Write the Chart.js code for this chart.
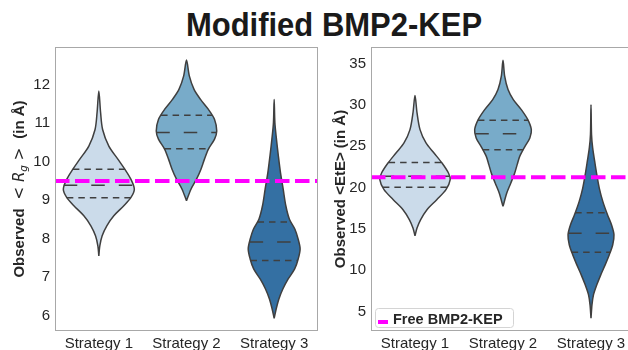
<!DOCTYPE html>
<html>
<head>
<meta charset="utf-8">
<script src="https://cdn.jsdelivr.net/npm/chart.js@4.4.1/dist/chart.umd.min.js"></script>
<style>
    html, body { margin: 0; padding: 0; background: #fff; }
    body { width: 628px; height: 350px; overflow: hidden; position: relative;
           font-family: "Liberation Sans", Arial, sans-serif; }
    #titulo { position: absolute; left: 0; top: 4px; width: 668px; text-align: center;
              font-weight: bold; font-size: 31px; line-height: 40px; color: #1a1a1a;
              transform: scaleY(1.08); transform-origin: center top; }
    .painel { position: absolute; top: 0; width: 330px; height: 350px; }
    #painelRg  { left: 0; }
    #painelEtE { left: 318px; }
</style>
</head>
<body>
<div id="titulo">Modified BMP2-KEP</div>
<div class="painel" id="painelRg"><canvas id="chartRg" width="330" height="350"></canvas></div>
<div class="painel" id="painelEtE"><canvas id="chartEtE" width="330" height="350"></canvas></div>

<script>
// violinos de Rg e EtE por estratégia, com a referência da proteína livre

// ===================== DADOS =====================
const estrategias = ["Strategy 1", "Strategy 2", "Strategy 3"];

// Rg: contorno de cada violino (nível em Å -> meia largura em unidades de categoria)
const rgNiveis1  = [7.55, 7.81, 8.07, 8.33, 8.59, 8.85, 9.06, 9.28, 9.54, 9.80, 10.06, 10.40, 10.83, 11.27, 11.83];
const rgLargura1 = [0, 0.011, 0.038, 0.091, 0.171, 0.285, 0.365, 0.405, 0.365, 0.296, 0.217, 0.114, 0.043, 0.02, 0];
const rgNiveis2  = [8.98, 9.28, 9.54, 9.80, 10.06, 10.32, 10.58, 10.79, 11.09, 11.35, 11.61, 11.87, 12.22, 12.63];
const rgLargura2 = [0, 0.051, 0.114, 0.165, 0.205, 0.25, 0.32, 0.345, 0.32, 0.25, 0.16, 0.086, 0.032, 0];
const rgNiveis3  = [5.93, 6.17, 6.43, 6.69, 6.95, 7.21, 7.47, 7.73, 7.98, 8.24, 8.50, 8.85, 9.28, 9.71, 10.14, 10.58, 11.01, 11.61];
const rgLargura3 = [0, 0.023, 0.054, 0.099, 0.16, 0.234, 0.274, 0.296, 0.274, 0.237, 0.174, 0.133, 0.103, 0.072, 0.048, 0.026, 0.008, 0];

const rgQ1      = [9.06, 10.33, 7.43];
const rgMediana = [9.38, 10.75, 7.91];
const rgQ3      = [9.80, 11.20, 8.43];
const rgMeiaQ1  = [0.365, 0.25, 0.27];
const rgMeiaMed = [0.40, 0.345, 0.28];
const rgMeiaQ3  = [0.296, 0.29, 0.19];

const rgTicks = [6, 7, 8, 9, 10, 11, 12];
const rgReferencia = 9.49;

// EtE
const eteNiveis1  = [14.17, 15.10, 16.10, 17.32, 18.53, 19.74, 20.95, 21.76, 22.97, 24.18, 25.39, 27.01, 29.03, 31.12];
const eteLargura1 = [0, 0.023, 0.063, 0.136, 0.247, 0.352, 0.40, 0.38, 0.307, 0.216, 0.125, 0.057, 0.023, 0];
const eteNiveis2  = [17.72, 19.34, 20.55, 21.76, 22.77, 23.77, 24.99, 26.00, 27.01, 28.22, 29.43, 30.64, 31.85, 33.47, 35.40];
const eteLargura2 = [0, 0.043, 0.089, 0.133, 0.161, 0.19, 0.25, 0.305, 0.322, 0.282, 0.208, 0.117, 0.057, 0.019, 0];
const eteNiveis3  = [4.20, 5.81, 7.02, 8.23, 9.44, 10.65, 11.87, 13.08, 14.29, 15.50, 16.71, 18.33, 19.94, 21.56, 23.17, 24.79, 26.40, 30.03];
const eteLargura3 = [0, 0.011, 0.028, 0.066, 0.111, 0.161, 0.208, 0.247, 0.261, 0.233, 0.1875, 0.134, 0.094, 0.066, 0.042, 0.019, 0.006, 0];

const eteQ1      = [20.05, 24.58, 12.17];
const eteMediana = [21.38, 26.50, 14.47];
const eteQ3      = [23.03, 28.14, 16.95];
const eteMeiaQ1  = [0.365, 0.23, 0.22];
const eteMeiaMed = [0.39, 0.315, 0.26];
const eteMeiaQ3  = [0.30, 0.285, 0.18];

const eteTicks = [5, 10, 15, 20, 25, 30, 35];
const eteReferencia = 21.25;

const legendaTexto = "Free BMP2-KEP";

// ===================== CORES =====================
const COR_TEXTO    = "#262626";
const COR_CONTORNO = "#3f3f3f";
const COR_MAGENTA  = "#ff00ff";
const COR_MOLDURA  = "#a8a8a8";
const CORES_VIOLINOS = ["#cbdbea", "#78abc9", "#3470a3"];

const FONTE = "'Liberation Sans', Arial, sans-serif";
Chart.defaults.font.family = FONTE;
Chart.defaults.color = COR_TEXTO;

// ===================== PLUGINS =====================
// moldura cinza em volta da área do gráfico
const moldura = {
    id: "moldura",
    afterDatasetsDraw(chart) {
        const { ctx, chartArea: a } = chart;
        ctx.save();
        ctx.strokeStyle = COR_MOLDURA;
        ctx.lineWidth = 1;
        ctx.strokeRect(a.left + 0.5, a.top + 0.5, a.right - a.left - 1, a.bottom - a.top - 1);
        ctx.restore();
    },
};

// título do eixo y em partes (permite itálico e subscrito)
const rotuloY = {
    id: "rotuloY",
    afterDraw(chart, args, opts) {
        const { ctx, chartArea: a } = chart;
        ctx.save();
        ctx.translate(opts.x, (a.top + a.bottom) / 2);
        ctx.rotate(-Math.PI / 2);
        let total = 0;
        opts.partes.forEach(p => { ctx.font = p.fonte; total += ctx.measureText(p.texto).width; });
        let x = -total / 2;
        ctx.fillStyle = COR_TEXTO;
        ctx.textBaseline = "alphabetic";
        opts.partes.forEach(p => {
            ctx.font = p.fonte;
            ctx.fillText(p.texto, x, p.dy || 0);
            x += ctx.measureText(p.texto).width;
        });
        ctx.restore();
    },
};

// legenda dentro da área, canto inferior esquerdo
const legendaCanto = {
    id: "legendaCanto",
    afterDraw(chart, args, opts) {
        if (!opts.texto) return;
        const { ctx, chartArea: a } = chart;
        const w = 138, h = 19;
        const x0 = a.left + 4, y0 = a.bottom - 4 - h;
        ctx.save();
        ctx.beginPath();
        ctx.roundRect(x0 + 0.5, y0 + 0.5, w, h, 3);
        ctx.fillStyle = "rgba(255,255,255,0.85)";
        ctx.fill();
        ctx.strokeStyle = "#d4d4d4";
        ctx.lineWidth = 1;
        ctx.stroke();

        ctx.beginPath();
        ctx.moveTo(x0 + 3, y0 + 14);
        ctx.lineTo(x0 + 13, y0 + 14);
        ctx.strokeStyle = COR_MAGENTA;
        ctx.lineWidth = 4;
        ctx.stroke();

        ctx.font = "bold 14.5px " + FONTE;
        ctx.fillStyle = COR_TEXTO;
        ctx.textBaseline = "alphabetic";
        ctx.fillText(opts.texto, x0 + 18, y0 + 15.5);
        ctx.restore();
    },
};

// ===================== MONTAGEM =====================
function contornoViolino(centro, niveis, larguras) {
    // sobe pelo lado direito e desce pelo esquerdo
    const pts = niveis.map((y, i) => ({ x: centro + larguras[i], y }));
    for (let i = niveis.length - 2; i >= 0; i--) {
        pts.push({ x: centro - larguras[i], y: niveis[i] });
    }
    return pts;
}

function linhaQuartil(i, valor, meia, tracejado) {
    return {
        data: [{ x: i - meia, y: valor }, { x: i + meia, y: valor }],
        borderColor: COR_CONTORNO,
        borderWidth: 1.5,
        borderDash: tracejado,
        pointRadius: 0,
        fill: false,
        order: 1,
    };
}

function datasetsPainel(niveis, larguras, q1, med, q3, meiaQ1, meiaMed, meiaQ3, referencia) {
    const ds = [{
        data: [{ x: -0.5, y: referencia }, { x: 2.5, y: referencia }],
        borderColor: COR_MAGENTA,
        borderWidth: 4,
        borderDash: [14.5, 5.5],
        pointRadius: 0,
        fill: false,
        clip: 0,
        order: 0,
    }];
    estrategias.forEach((_, i) => {
        ds.push(linhaQuartil(i, q1[i],  meiaQ1[i],  [6.5, 5]));
        ds.push(linhaQuartil(i, med[i], meiaMed[i], [13.5, 14]));
        ds.push(linhaQuartil(i, q3[i],  meiaQ3[i],  [6.5, 5]));
        ds.push({
            data: contornoViolino(i, niveis[i], larguras[i]),
            borderColor: COR_CONTORNO,
            borderWidth: 1.5,
            backgroundColor: CORES_VIOLINOS[i],
            fill: "shape",
            tension: 0.3,
            pointRadius: 0,
            order: 2,
        });
    });
    return ds;
}

function opcoesPainel(cfg) {
    return {
        responsive: false,
        animation: false,
        events: [],
        layout: { padding: { top: 47, right: cfg.direita, bottom: 0, left: 0 } },
        plugins: {
            legend: { display: false },
            tooltip: { enabled: false },
            rotuloY: { x: cfg.rotuloX, partes: cfg.partes },
            legendaCanto: { texto: cfg.legenda },
        },
        scales: {
            x: {
                type: "linear", min: -0.5, max: 2.5,
                afterBuildTicks: s => { s.ticks = estrategias.map((_, i) => ({ value: i })); },
                afterFit: s => { s.height = 19; },
                grid: { display: false, drawTicks: false },
                border: { display: false },
                ticks: {
                    font: { size: 15 }, color: COR_TEXTO, padding: 4,
                    autoSkip: false, maxRotation: 0,
                    callback: v => estrategias[v],
                },
            },
            y: {
                type: "linear", min: cfg.min, max: cfg.max,
                afterBuildTicks: s => { s.ticks = cfg.ticks.map(v => ({ value: v })); },
                afterFit: s => { s.width = cfg.larguraEixo; },
                grid: { display: false, drawTicks: false },
                border: { display: false },
                ticks: { font: { size: 15 }, color: COR_TEXTO, padding: 5 },
            },
        },
    };
}

// ===================== GRÁFICOS =====================
const negrito = "bold 15px " + FONTE;
const mat     = "15px 'DejaVu Sans', sans-serif";

new Chart(document.getElementById("chartRg"), {
    type: "line",
    data: {
        datasets: datasetsPainel(
            [rgNiveis1, rgNiveis2, rgNiveis3], [rgLargura1, rgLargura2, rgLargura3],
            rgQ1, rgMediana, rgQ3, rgMeiaQ1, rgMeiaMed, rgMeiaQ3, rgReferencia),
    },
    options: opcoesPainel({
        min: 5.6, max: 12.97, ticks: rgTicks, larguraEixo: 55, direita: 12, rotuloX: 24,
        partes: [
            { texto: "Observed ", fonte: negrito },
            { texto: " < ", fonte: mat },
            { texto: "R", fonte: "italic " + mat },
            { texto: "g", fonte: "italic 10.5px 'DejaVu Sans', sans-serif", dy: 3 },
            { texto: " > ", fonte: mat },
            { texto: " (in Å)", fonte: negrito },
        ],
    }),
    plugins: [moldura, rotuloY, legendaCanto],
});

new Chart(document.getElementById("chartEtE"), {
    type: "line",
    data: {
        datasets: datasetsPainel(
            [eteNiveis1, eteNiveis2, eteNiveis3], [eteLargura1, eteLargura2, eteLargura3],
            eteQ1, eteMediana, eteQ3, eteMeiaQ1, eteMeiaMed, eteMeiaQ3, eteReferencia),
    },
    options: opcoesPainel({
        min: 2.65, max: 37.0, ticks: eteTicks, larguraEixo: 53, direita: 13, rotuloX: 26.5,
        partes: [{ texto: "Observed <EtE> (in Å)", fonte: negrito }],
        legenda: legendaTexto,
    }),
    plugins: [moldura, rotuloY, legendaCanto],
});
</script>
</body>
</html>
